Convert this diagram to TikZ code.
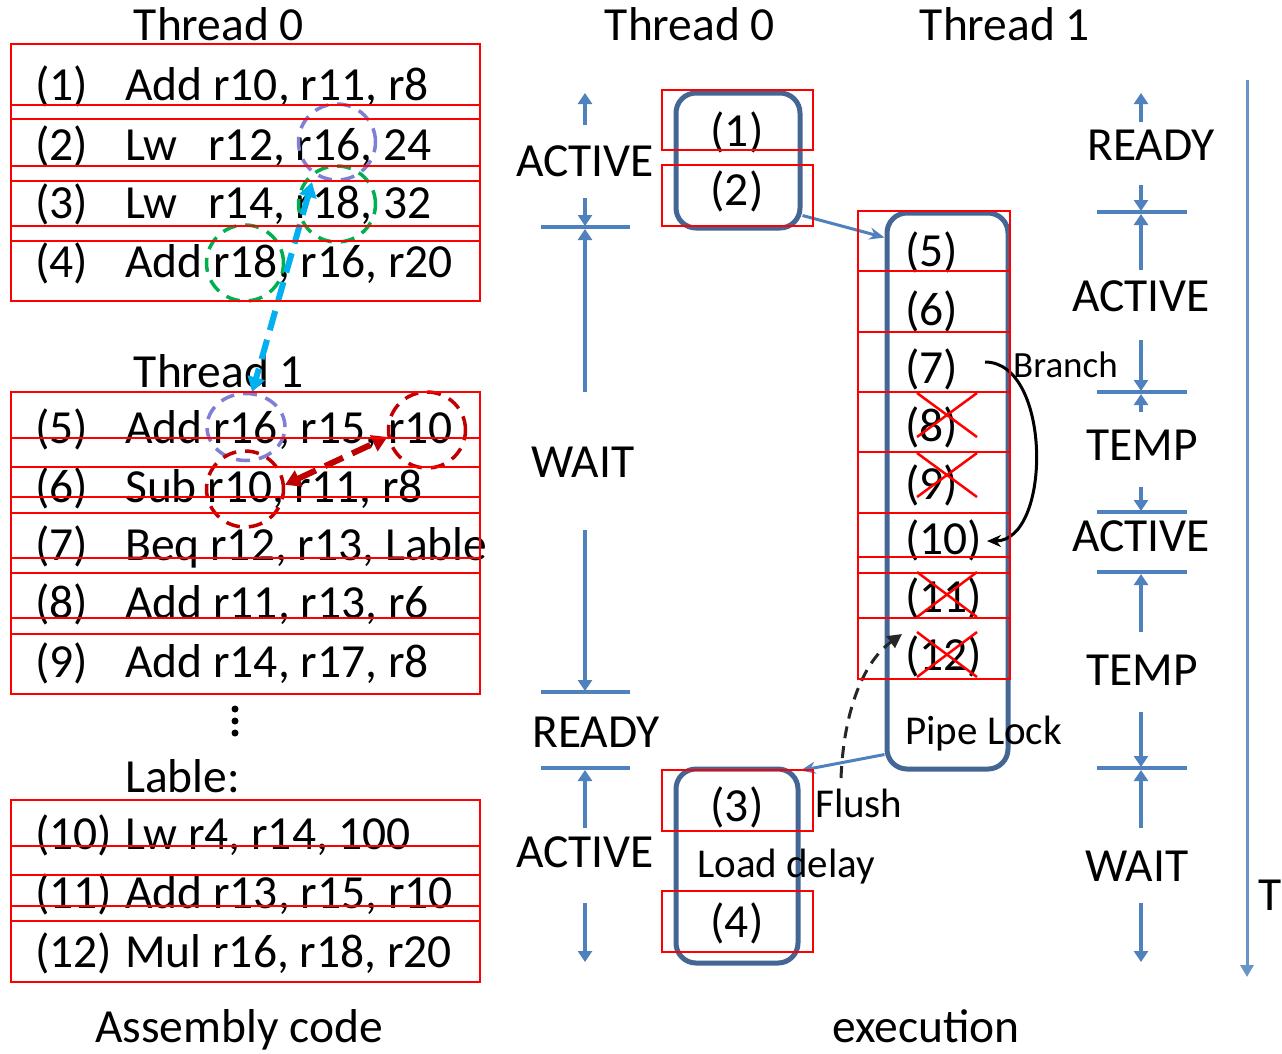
\documentclass[tikz,border=0pt]{standalone}
\usepackage{fontspec}
\setmainfont{Carlito}
\usetikzlibrary{arrows.meta,shapes.geometric}
\definecolor{stateblue}{HTML}{4F81BD}
\definecolor{boxblue}{HTML}{446694}
\definecolor{ringpurple}{HTML}{7F7FD5}
\definecolor{ringgreen}{HTML}{00B050}
\definecolor{ringred}{HTML}{C00000}
\definecolor{depcyan}{HTML}{00B0F0}
\begin{document}
\begin{tikzpicture}[x=1pt,y=-1pt,
  every node/.style={inner sep=0pt},
  big/.style={font=\fontsize{47.5}{50}\selectfont},
  small/.style={font=\fontsize{41}{44}\selectfont},
  code/.style={big,anchor=base west},
  lbl/.style={big,anchor=base},
  st/.style={draw=stateblue,line width=3.2pt,-{Triangle[width=14pt,length=11pt]}},
  bar/.style={draw=stateblue,line width=3.2pt},
  exbox/.style={draw=boxblue,line width=5pt,rounded corners=20pt},
  redbox/.style={draw=red,line width=2.5pt},
  cross/.style={draw=red,line width=2.5pt},
  ring/.style={ellipse,draw=#1,dash pattern=on 14pt off 9pt,line width=3.5pt,
               minimum width=77pt,minimum height=76pt},
  link/.style={draw=stateblue,line width=3pt,-{Stealth[length=15pt,width=12pt]}},
  dep/.style={line width=6pt,dash pattern=on 20pt off 10pt,
              {Triangle[width=17pt,length=15pt]}-{Triangle[width=17pt,length=15pt]}},
]
\useasboundingbox (0,0) rectangle (1282,1053);
\fill[white] (0,0) rectangle (1282,1053);

% ---------- assembly listing ----------
\node[lbl] (h0) at (219,40) {Thread 0};
\node[code] (n1) at (35,100) {(1)};  \node[code] (i1) at (125,100) {Add r10, r11, r8};
\node[code] (n2) at (35,160) {(2)};  \node[code] (i2) at (125,160) {Lw\hspace*{31pt}r12, r16, 24};
\node[code] (n3) at (35,218) {(3)};  \node[code] (i3) at (125,218) {Lw\hspace*{31pt}r14, r18, 32};
\node[code] (n4) at (35,277) {(4)};  \node[code] (i4) at (125,277) {Add r18, r16, r20};

\node[lbl] (h1) at (219,387) {Thread 1};
\node[code] (n5) at (35,443) {(5)};  \node[code] (i5) at (125,443) {Add r16, r15, r10};
\node[code] (n6) at (35,502) {(6)};  \node[code] (i6) at (125,502) {Sub r10, r11, r8};
\node[code] (n7) at (35,560) {(7)};  \node[code] (i7) at (125,560) {Beq r12, r13, Lable};
\node[code] (n8) at (35,618) {(8)};  \node[code] (i8) at (125,618) {Add r11, r13, r6};
\node[code] (n9) at (35,677) {(9)};  \node[code] (i9) at (125,677) {Add r14, r17, r8};

\foreach \yy in {709,721,733} \fill (235,\yy) circle (3.5pt);
\node[code] (lab) at (125,792) {Lable:};
\node[code] (n10) at (35,849) {(10)}; \node[code] (i10) at (125,849) {Lw r4, r14, 100};
\node[code] (n11) at (35,908) {(11)}; \node[code] (i11) at (125,908) {Add r13, r15, r10};
\node[code] (n12) at (35,967) {(12)}; \node[code] (i12) at (125,967) {Mul r16, r18, r20};

\node[lbl] (cap0) at (239,1042) {Assembly code};

% register dependency rings
\node[ring=ringpurple] (cp2) at (337,142) {};
\node[ring=ringgreen]  (cg3) at (337,204) {};
\node[ring=ringgreen]  (cg4) at (245,263) {};
\node[ring=ringpurple,minimum width=78pt,minimum height=67pt] (cp5) at (246,427) {};
\node[ring=ringred]    (cr5) at (427,430) {};
\node[ring=ringred]    (cr6) at (245,489) {};

\coordinate (dtop) at (312,182);
\draw[dep,depcyan] (dtop) -- (cp5.80);
\draw[dep,ringred] (cr6.6) -- (cr5.190);

% ---------- execution ----------
\node[lbl] (e0h) at (690,40) {Thread 0};
\node[lbl] (e1h) at (1005,40) {Thread 1};

\node[exbox,minimum width=124pt,minimum height=135pt] (t0a) at (738,160.5) {};
\node[exbox,minimum width=121pt,minimum height=556pt] (t1) at (947.5,491) {};
\node[exbox,minimum width=122pt,minimum height=194pt] (t0b) at (737,866) {};

\node[lbl] (e1) at (737,146) {(1)};
\node[lbl] (e2) at (737,205) {(2)};
\node[lbl] (e3) at (737,821) {(3)};
\node[lbl] (e4) at (737,937) {(4)};
\node[small,anchor=base west] (ld) at (697,877) {Load delay};

\node[code] (e5)  at (905,266) {(5)};
\node[code] (e6)  at (905,325) {(6)};
\node[code] (e7)  at (905,383) {(7)};
\node[code] (e8)  at (905,441) {(8)};
\node[code] (e9)  at (905,499) {(9)};
\node[code] (e10) at (905,554) {(10)};
\node[code] (e11) at (905,612) {(11)};
\node[code] (e12) at (905,670) {(12)};
\node[small,anchor=base west] (pl) at (905,744) {Pipe Lock};
\node[small,anchor=base west] (fl) at (815,817) {Flush};
\node[font=\fontsize{37}{40}\selectfont,anchor=base west] (brl) at (1013,377) {Branch};

\draw[link] ([yshift=15pt]t0a.south east) -- ([yshift=-27pt]t1.north west);
\draw[link] ([yshift=17pt]t1.south west) -- ([yshift=-4pt]t0b.north east);

\coordinate (br0) at (985,362);
\coordinate (br1) at (987,541);
\draw[line width=3pt,-{Stealth[length=14pt,width=12pt]}]
  (br0) .. controls (1052,362) and (1052,541) .. (br1);

\coordinate (fl0) at (841,778);
\coordinate (fl1) at (902,634);
\draw[line width=3pt,dash pattern=on 12pt off 8pt,-{Triangle[width=14pt,length=14pt]},black!85]
  (fl0) .. controls (844,705) and (866,660) .. (fl1);

\node[lbl] (cap1) at (926,1042) {execution};

% squashed instructions
\foreach \ya/\yb in {393/437,453/497,572/617,632/677}{
  \draw[cross] (917,\ya) -- (977,\yb);
  \draw[cross] (917,\yb) -- (977,\ya);
}

% ---------- thread states, thread 0 ----------
\draw[st] (585,125) -- (585,93);
\node[lbl] (s1) at (585,176) {ACTIVE};
\draw[st] (585,198) -- (585,226);
\draw[bar] (541,227) -- (630,227);
\draw[st] (585,392) -- (585,229);
\node[lbl] (s2) at (583,477) {WAIT};
\draw[st] (585,530) -- (585,691);
\draw[bar] (541,692) -- (630,692);
\node[lbl] (s3) at (596,747) {READY};
\draw[bar] (541,768) -- (630,768);
\draw[st] (585,828) -- (585,770);
\node[lbl] (s4) at (585,867) {ACTIVE};
\draw[st] (585,903) -- (585,962);

% ---------- thread states, thread 1 ----------
\draw[st] (1141,122) -- (1141,93);
\node[lbl] (r1) at (1151,160) {READY};
\draw[st] (1141,185) -- (1141,211);
\draw[bar] (1097,212) -- (1187,212);
\draw[st] (1141,270) -- (1141,214);
\node[lbl] (r2) at (1141,311) {ACTIVE};
\draw[st] (1141,340) -- (1141,391);
\draw[bar] (1097,392) -- (1187,392);
\draw[st] (1141,412) -- (1141,394);
\node[lbl] (r3) at (1142,460) {TEMP};
\draw[st] (1141,487) -- (1141,511);
\draw[bar] (1097,512) -- (1187,512);
\node[lbl] (r4) at (1141,551) {ACTIVE};
\draw[bar] (1097,572) -- (1187,572);
\draw[st] (1141,632) -- (1141,574);
\node[lbl] (r5) at (1142,685) {TEMP};
\draw[st] (1141,712) -- (1141,767);
\draw[bar] (1097,768) -- (1187,768);
\draw[st] (1141,828) -- (1141,770);
\node[lbl] (r6) at (1137,881) {WAIT};
\draw[st] (1141,903) -- (1141,962);

% time axis
\draw[draw=stateblue!85,line width=3pt,-{Triangle[width=13pt,length=12pt]}] (1247,80) -- (1247,977);
\node[code] (tm) at (1258,910) {T};

% ---------- overlay boxes ----------
\foreach \ya/\yb in {44/119,105/181,166/241,226/301,
                     392/467,438/513,497/573,558/634,618/694,
                     800/875,846/921,906/982}
  \draw[redbox] (11,\ya) rectangle (480,\yb);
\foreach \ya/\yb in {90/150,165/226,770/831,891/952}
  \draw[redbox] (662,\ya) rectangle (813,\yb);
\foreach \ya/\yb in {211/271,271/332,332/392,392/452,452/513,513/573,557/618,618/679}
  \draw[redbox] (858,\ya) rectangle (1010,\yb);
\end{tikzpicture}
\end{document}
